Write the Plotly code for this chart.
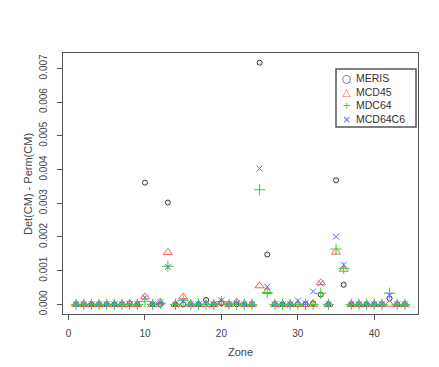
import plotly.graph_objects as go

zones = list(range(1, 45))

meris = [0]*44
mcd45 = [0]*44
mdc64 = [0]*44
mcd64c6 = [0]*44

meris_vals = {8: 0.00003, 10: 0.00361, 13: 0.00302, 18: 0.00013, 20: 0.00003, 25: 0.00717,
              26: 0.00148, 32: 0.00003, 33: 0.00029, 35: 0.00368, 36: 0.00058, 42: 0.00018}
mcd45_vals = {10: 0.00022, 12: 0.00006, 13: 0.00154, 15: 0.00022, 20: 0.00006, 22: 0.00006,
              25: 0.00055, 26: 0.00038, 33: 0.00064, 35: 0.00155, 36: 0.00104, 42: 0.00001}
mdc64_vals = {10: 0.00008, 12: 0.00003, 13: 0.00113, 15: 0.00012, 20: 0.00008, 25: 0.00340,
              26: 0.00035, 33: 0.00033, 35: 0.00164, 36: 0.00107, 42: 0.00033}
mcd64c6_vals = {10: 0.00020, 12: 0.00006, 13: 0.00111, 15: 0.00010, 20: 0.00012, 22: 0.00004,
                25: 0.00403, 26: 0.00052, 30: 0.00011, 31: 0.00003, 32: 0.00038, 33: 0.00062,
                35: 0.00201, 36: 0.00117, 42: 0.00026}
for arr, vals in ((meris, meris_vals), (mcd45, mcd45_vals), (mdc64, mdc64_vals), (mcd64c6, mcd64c6_vals)):
    for z, v in vals.items():
        arr[z - 1] = v

series_names = ["MERIS", "MCD45", "MDC64", "MCD64C6"]
series_colors = ["#333333", "rgb(255,90,90)", "rgb(40,215,40)", "rgb(100,100,255)"]
series_symbols = ["circle-open", "triangle-up-open", "cross-thin-open", "x-thin-open"]
series_sizes = [5, 8, 8, 6]
legend_glyphs = ["○", "△", "+", "×"]

y_ticks = [0.000, 0.001, 0.002, 0.003, 0.004, 0.005, 0.006, 0.007]
x_ticks = [0, 10, 20, 30, 40]

fig = go.Figure()
for name, vals, col, sym, sz in zip(series_names, (meris, mcd45, mdc64, mcd64c6),
                                     series_colors, series_symbols, series_sizes):
    fig.add_trace(go.Scatter(x=zones, y=vals, mode="markers", name=name, showlegend=False,
                             marker=dict(symbol=sym, size=sz, color=col, line=dict(width=1, color=col))))

ymax = max(meris + mcd45 + mdc64 + mcd64c6)
pad = 0.04 * ymax

# page body has an 8px margin; figure is sized so it fits without scrollbars
OFF = 8
W, H = 439 - 2 * OFF, 367 - 2 * OFF
L, T = 63 - OFF, 53 - OFF
R = W - (418 - OFF)
B = H - (314 - OFF)
pw, ph = W - L - R, H - T - B

def px(p):  # reference page x -> paper x
    return (p - OFF - L) / pw

def py(q):  # reference page y -> paper y
    return (H - B - (q - OFF)) / ph

shapes = [
    dict(type="rect", xref="paper", yref="paper", layer="above",
         x0=px(336), x1=px(416), y0=py(127), y1=py(69), fillcolor="rgba(0,0,0,0)",
         line=dict(width=1.5, color="#555555")),
]

leg_font = 10.5
annotations = [
    dict(text="Det(CM) - Perm(CM)", xref="paper", yref="paper", x=px(28), y=py(184),
         textangle=-90, showarrow=False, font=dict(size=11, color="#444444"),
         xanchor="center", yanchor="middle"),
    dict(text="Zone", xref="paper", yref="paper", x=px(240.5), y=py(351.5),
         showarrow=False, font=dict(size=11, color="#444444"), borderpad=0,
         xanchor="center", yanchor="middle"),
    dict(text="<br>".join(f"<span style='color:{c}'>{g}</span>"
                          for g, c in zip(legend_glyphs, series_colors)),
         xref="paper", yref="paper", x=px(346.7), y=py(98), showarrow=False,
         xanchor="center", yanchor="middle", align="center",
         font=dict(size=leg_font, family="DejaVu Sans")),
    dict(text="<br>".join(series_names), xref="paper", yref="paper", x=px(354), y=py(98),
         showarrow=False, xanchor="left", yanchor="middle", align="left",
         font=dict(size=leg_font, color="#333333")),
]

fig.update_layout(
    width=W, height=H,
    margin=dict(l=L, r=R, t=T, b=B),
    paper_bgcolor="white",
    plot_bgcolor="white",
    font=dict(family="Liberation Sans, Arial, sans-serif", color="#444444"),
    showlegend=False,
    shapes=shapes,
    annotations=annotations,
)
fig.update_xaxes(range=[1 - 0.04 * 43, 44 + 0.04 * 43], tickvals=x_ticks, ticks="outside", ticklen=5,
                 tickcolor="#555555", showgrid=False, zeroline=False, showline=True, mirror=True,
                 linecolor="#555555", linewidth=1, tickfont=dict(size=10), ticklabelstandoff=5,
                 automargin=False)
fig.update_yaxes(range=[-pad, ymax + pad], tickvals=y_ticks, tickformat=".3f", ticks="outside", ticklen=5,
                 tickcolor="#555555", showgrid=False, zeroline=False, showline=True, mirror=True,
                 linecolor="#555555", linewidth=1, tickfont=dict(size=10), tickangle=-90,
                 ticklabelstandoff=6, automargin=False)

fig.write_html("out.html")
